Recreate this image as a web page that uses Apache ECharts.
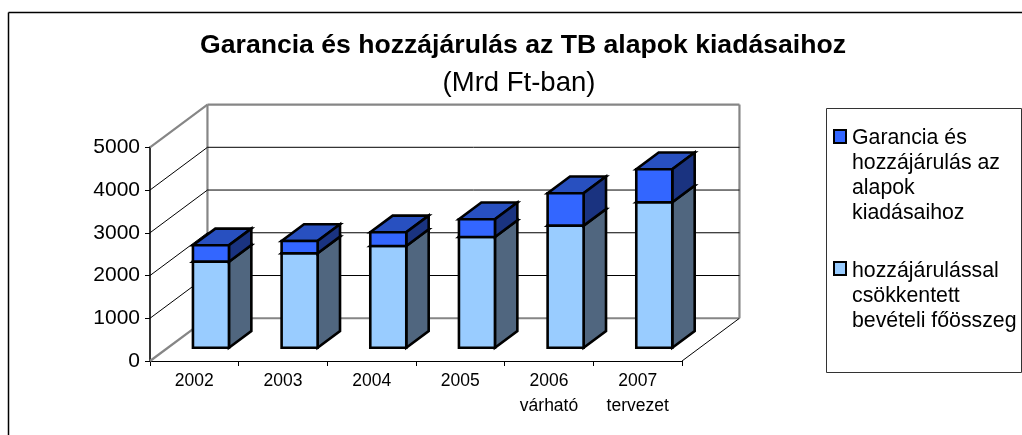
<!DOCTYPE html>
<html><head><meta charset="utf-8">
<style>html,body{margin:0;padding:0;background:#fff}#c{width:1022px;height:435px}</style>
<script src="https://cdn.jsdelivr.net/npm/echarts@6/dist/echarts.min.js"></script>
</head><body><div id="c"></div>
<script>
var categories = ['2002','2003','2004','2005','2006\nvárható','2007\ntervezet'];
var baseValues = [2014,2210,2382,2592,2857,3405];
var guaranteeValues = [384,288,320,415,759,773];
var yTicks = [0,1000,2000,3000,4000,5000];
var seriesNames = ['Garancia és\nhozzájárulás az\nalapok\nkiadásaihoz','hozzájárulással\ncsökkentett\nbevételi főösszeg'];

var FONT = '"Liberation Sans", Arial, sans-serif';
var FLOOR_DX = 0.648;       // floor depth in category bands
var FLOOR_DV = 1000;        // floor depth in axis units
var BAR_W = 0.406, NEAR = 0.31, BAR_DEPTH = 0.39;

function depth(api, frac){
  var band = api.size([1,0])[0];
  var p0 = api.coord([0,0]), p1 = api.coord([0,FLOOR_DV]);
  return [band*FLOOR_DX*frac, (p1[1]-p0[1])*frac];
}
function renderWall(params, api){
  var v = api.value(1);
  var band = api.size([1,0])[0];
  var leftX = api.coord([0, 0])[0] - band/2, y = api.coord([0, v])[1];
  var right = leftX + band*categories.length;
  var d = depth(api,1);
  var isEdge = (v === 0 || v === 5000);
  var grey = {stroke:'#868686', lineWidth:2.2, fill:null};
  var black = {stroke:'#000', lineWidth:1, fill:null};
  var ch = [];
  ch.push({type:'line', shape:{x1:leftX,y1:y,x2:leftX+d[0],y2:y+d[1]}, style:isEdge?grey:black});
  ch.push({type:'line', shape:{x1:leftX+d[0],y1:y+d[1],x2:right+d[0],y2:y+d[1]}, style:isEdge?grey:black});
  if(v === 0){
    var topY = api.coord([0,5000])[1];
    ch.push({type:'line', shape:{x1:right,y1:y,x2:right+d[0],y2:y+d[1]}, style:black});
    ch.push({type:'line', shape:{x1:leftX+d[0],y1:y+d[1],x2:leftX+d[0],y2:topY+d[1]}, style:grey});
    ch.push({type:'line', shape:{x1:right+d[0],y1:y+d[1],x2:right+d[0],y2:topY+d[1]}, style:grey});
  }
  return {type:'group', children:ch};
}
function makeBar(front, side, top){
  return function(params, api){
    var c = api.value(0), lo = api.value(1), hi = api.value(2);
    var band = api.size([1,0])[0];
    var o = depth(api,NEAR), d = depth(api,BAR_DEPTH);
    var w = band*BAR_W;
    var cx = api.coord([c,0])[0] + o[0] - 1.2;
    var x0 = cx-w/2, x1 = cx+w/2;
    var yl = api.coord([c,lo])[1]+o[1], yh = api.coord([c,hi])[1]+o[1];
    var st = function(f){return {fill:f, stroke:'#000', lineWidth:2.6, lineJoin:'miter'};};
    return {type:'group', children:[
      {type:'polygon', shape:{points:[[x0,yh],[x1,yh],[x1+d[0],yh+d[1]],[x0+d[0],yh+d[1]]]}, style:st(top)},
      {type:'polygon', shape:{points:[[x1,yl],[x1+d[0],yl+d[1]],[x1+d[0],yh+d[1]],[x1,yh]]}, style:st(side)},
      {type:'polygon', shape:{points:[[x0,yl],[x1,yl],[x1,yh],[x0,yh]]}, style:st(front)}
    ]};
  };
}
var lowerData = baseValues.map(function(v,i){return [i,0,v];});
var upperData = baseValues.map(function(v,i){return [i,v,v+guaranteeValues[i]];});

var option = {
  animation:false,
  title:[
    {text:'Garancia és hozzájárulás az TB alapok kiadásaihoz', left:518, top:27, textAlign:'center',
     textStyle:{fontFamily:FONT,fontSize:26.6,fontWeight:'bold',color:'#000'}},
    {text:'(Mrd Ft-ban)', left:514, top:64, textAlign:'center',
     textStyle:{fontFamily:FONT,fontSize:27.5,fontWeight:'normal',color:'#000'}}
  ],
  grid:{left:150, top:147.3, width:532, height:213.7, containLabel:false},
  xAxis:{type:'category', data:categories, boundaryGap:true,
    axisLine:{lineStyle:{color:'#000',width:1}},
    axisTick:{show:true,alignWithLabel:false,length:5,lineStyle:{color:'#000'}},
    axisLabel:{interval:0,fontFamily:FONT,fontSize:17.5,color:'#000',lineHeight:25,margin:8}},
  yAxis:{type:'value', min:0, max:5000, interval:1000,
    axisLine:{show:true,lineStyle:{color:'#333',width:2}},
    axisTick:{show:true,length:5,lineStyle:{color:'#000'}},
    splitLine:{show:false},
    axisLabel:{fontFamily:FONT,fontSize:21,color:'#000',margin:10,padding:[6,0,0,0],formatter:function(v){return String(v);}}},
  series:[
    {type:'custom', name:'walls', coordinateSystem:'cartesian2d', silent:true, clip:false,
     renderItem:renderWall, data:yTicks.map(function(v){return [0,v];}), encode:{x:0,y:1}, z:1},
    {type:'custom', name:seriesNames[1], renderItem:makeBar('#99CCFF','#50667F','#7AA3CC'), data:lowerData, encode:{x:0,y:[1,2]}, clip:false, z:3},
    {type:'custom', name:seriesNames[0], renderItem:makeBar('#3366FF','#1A3380','#2850C0'), data:upperData, encode:{x:0,y:[1,2]}, clip:false, z:4}
  ],
  graphic:[
    {type:'line', shape:{x1:8.5,y1:12.5,x2:1022,y2:12.5}, style:{stroke:'#000',lineWidth:1.5}, z:0},
    {type:'line', shape:{x1:8.5,y1:12.5,x2:8.5,y2:435}, style:{stroke:'#000',lineWidth:1.5}, z:0},
    {type:'rect', shape:{x:826.5,y:108.5,width:195,height:264}, style:{fill:'#fff',stroke:'#333',lineWidth:1}, z:5},
    {type:'rect', shape:{x:834,y:130,width:12,height:13}, style:{fill:'#3366FF',stroke:'#000',lineWidth:2}, z:6},
    {type:'text', x:852, y:126, style:{text:seriesNames[0],font:'21.3px '+FONT,lineHeight:25,fill:'#000'}, z:6},
    {type:'rect', shape:{x:834,y:262,width:12,height:13}, style:{fill:'#99CCFF',stroke:'#000',lineWidth:2}, z:6},
    {type:'text', x:852, y:259, style:{text:seriesNames[1],font:'21.3px '+FONT,lineHeight:25,fill:'#000'}, z:6}
  ]
};
echarts.init(document.getElementById('c'),null,{renderer:'canvas'}).setOption(option);
</script></body></html>
